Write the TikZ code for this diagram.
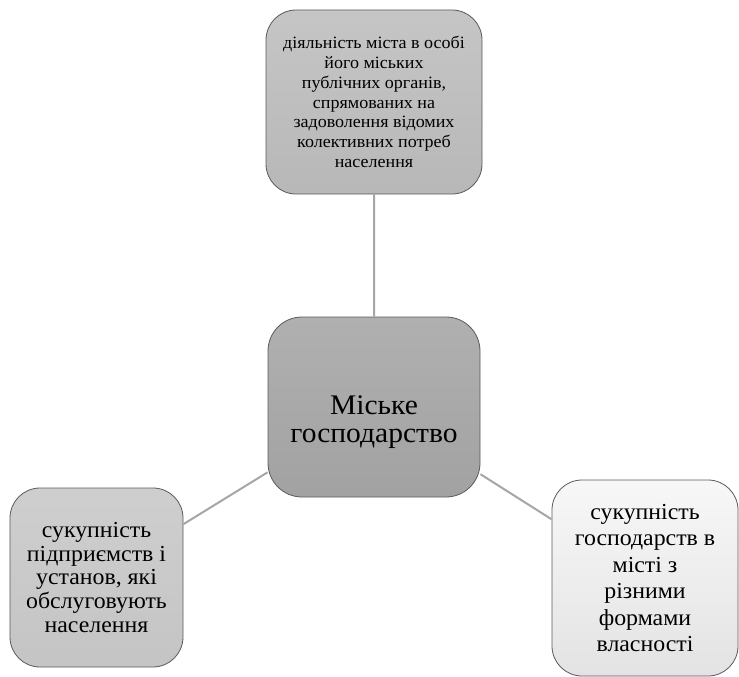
\documentclass[tikz,border=0pt]{standalone}
\usepackage{fontspec}
\setmainfont{Liberation Serif}[FakeStretch=1.04]
\usetikzlibrary{positioning}

\definecolor{linkgrey}{HTML}{A6A6A6}
\definecolor{edgegrey}{HTML}{5A5A5A}

\begin{document}
\begin{tikzpicture}[x=1bp, y=-1bp,
    box/.style={draw=edgegrey, line width=0.8bp, rounded corners=30bp,
      align=center, inner sep=0pt},
    link/.style={draw=linkgrey, line width=2bp}]
    \useasboundingbox (0,0) rectangle (739,677);

    \node[box, top color=gray!45, bottom color=gray!56,
          minimum width=216bp, minimum height=184bp,
          font=\fontsize{17.4}{19.8}\selectfont] (duty) at (374,102)
      {діяльність міста в особі\\ його міських\\ публічних органів,\\
       спрямованих на\\ задоволення відомих\\ колективних потреб\\ населення};
    \node[box, top color=gray!62, bottom color=gray!73, rounded corners=34bp,
          minimum width=212bp, minimum height=180bp,
          label={[align=center, yshift=-15bp, font=\fontsize{28.5}{28}\selectfont]
                 center:Міське\\ господарство}] (city) at (374,407) {};
    \node[box, top color=gray!38, bottom color=gray!46,
          minimum width=173bp, minimum height=179bp,
          font=\fontsize{23}{24}\selectfont] (firms) at (96.5,577.5)
      {сукупність\\ підприємств і\\ установ, які\\ обслуговують\\ населення};
    \node[box, top color=gray!6, bottom color=gray!22,
          minimum width=186bp, minimum height=196bp,
          font=\fontsize{23}{26.6}\selectfont] (farms) at (645,578)
      {сукупність\\ господарств в\\ місті з\\ різними\\ формами\\ власності};

    \path[link]
      (duty) -- (city)
      (city) -- (firms)
      (city) -- (farms);
\end{tikzpicture}
\end{document}
